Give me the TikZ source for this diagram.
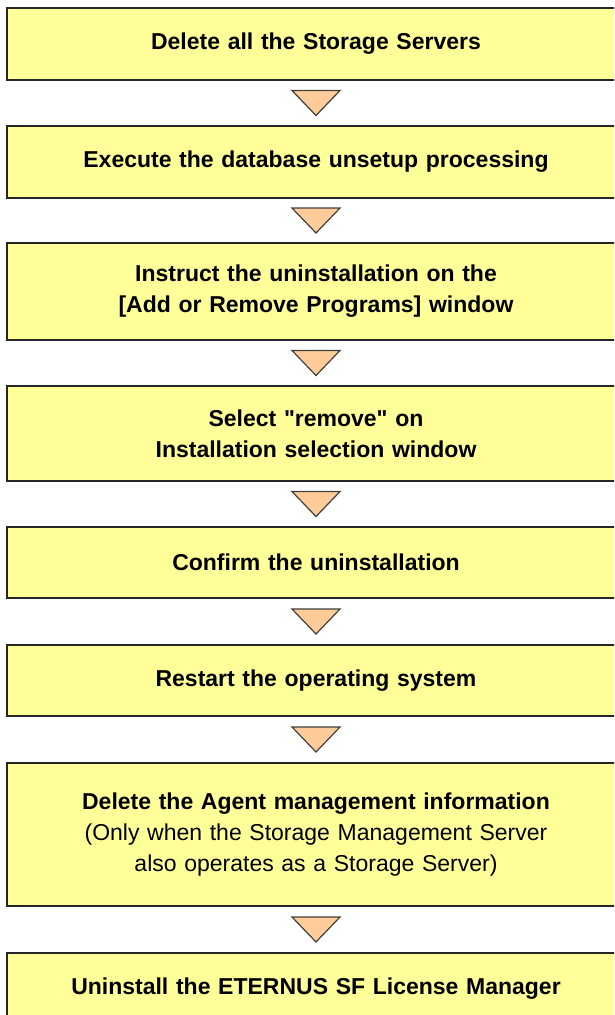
\documentclass[tikz,border=0pt]{standalone}
\usepackage{fontspec}
\setmainfont{Liberation Sans}[Ligatures=TeXOff]
\usepackage{tikz}
\usetikzlibrary{calc}
\usetikzlibrary{positioning}

\definecolor{stepyellow}{HTML}{FFFF99}
\definecolor{arrowpeach}{HTML}{FFCC99}

\tikzset{
  stepbox/.style={rectangle, draw=black!85, line width=1.6pt, fill=stepyellow,
    text width=600pt, inner xsep=9pt, inner ysep=0pt, align=center,
    font=\fontsize{23}{31}\selectfont\bfseries},
  downtri/.style={draw=black!75, line width=1.2pt, fill=arrowpeach, line join=miter}
}

\begin{document}
\begin{tikzpicture}[x=1pt, y=-1pt]
        \clip (0,0) rectangle (614,1015);
        \fill[white] (0,0) rectangle (614,1015);

        % Define nodes
        \node[stepbox, minimum height=72pt] (s1) at (316, 44) {Delete all the Storage Servers};
        \node[stepbox, minimum height=72pt] (s2) at (316, 162) {Execute the database unsetup processing};
        \node[stepbox, minimum height=97pt] (s3) at (316, 291.5) {Instruct the uninstallation on the\\{}[Add or Remove Programs] window};
        \node[stepbox, minimum height=95pt] (s4) at (316, 433.5) {Select "remove" on\\Installation selection window};
        \node[stepbox, minimum height=71pt] (s5) at (316, 562.5) {Confirm the uninstallation};
        \node[stepbox, minimum height=71pt] (s6) at (316, 680.5) {Restart the operating system};
        \node[stepbox, minimum height=143pt] (s7) at (316, 834.5) {Delete the Agent management information\\
          {\mdseries (Only when the Storage Management Server\\also operates as a Storage Server)}};
        \node[stepbox, minimum height=72pt] (s8) at (316, 989) {Uninstall the ETERNUS SF License Manager};

        % Draw arrows
        \foreach \a/\b in {s1/s2, s2/s3, s3/s4, s4/s5, s5/s6, s6/s7, s7/s8} {
          \coordinate (m) at ($(\a.south)!0.5!(\b.north)$);
          \draw[downtri] ($(m)+(-24,-12.5)$) -- ++(48,0) -- ++(-24,25) -- cycle;
        }
\end{tikzpicture}
\end{document}
